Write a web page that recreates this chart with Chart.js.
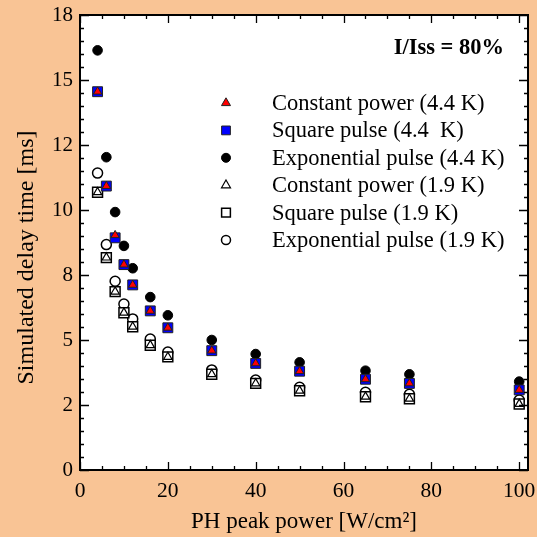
<!DOCTYPE html>
<html>
<head>
<meta charset="utf-8">
<script src="https://cdn.jsdelivr.net/npm/chart.js@4/dist/chart.umd.min.js"></script>
<style>
  html, body { margin: 0; padding: 0; background: rgb(249,196,149); }
  #wrap { width: 537px; height: 537px; }
</style>
</head>
<body>
<div id="wrap"><canvas id="c" width="537" height="537"></canvas></div>
<script>
// ---- Data ----
const xValues = [4, 6, 8, 10, 12, 16, 20, 30, 40, 50, 65, 75, 100];
const constPowerHot = [14.55, 10.92, 9.03, 7.90, 7.12, 6.12, 5.47, 4.59, 4.10, 3.80, 3.49, 3.33, 3.08];
const squarePulseHot = [14.55, 10.92, 8.93, 7.90, 7.12, 6.12, 5.47, 4.59, 4.10, 3.80, 3.49, 3.33, 3.08];
const expPulseHot = [16.14, 12.03, 9.92, 8.62, 7.76, 6.65, 5.95, 5.00, 4.46, 4.14, 3.82, 3.68, 3.40];
const constPowerCold = [10.68, 8.17, 6.86, 6.05, 5.51, 4.80, 4.35, 3.68, 3.33, 3.05, 2.82, 2.74, 2.54];
const squarePulseCold = [10.68, 8.17, 6.86, 6.05, 5.51, 4.80, 4.35, 3.68, 3.33, 3.05, 2.82, 2.74, 2.54];
const expPulseCold = [11.42, 8.67, 7.26, 6.38, 5.81, 5.04, 4.54, 3.85, 3.46, 3.18, 2.99, 2.91, 2.69];

const seriesLabels = [
  'Constant power (4.4 K)',
  'Square pulse (4.4  K)',
  'Exponential pulse (4.4 K)',
  'Constant power (1.9 K)',
  'Square pulse (1.9 K)',
  'Exponential pulse (1.9 K)'
];
const xTickValues = [0, 20, 40, 60, 80, 100];
const yTickValues = [0, 2.5, 5, 7.5, 10, 12.5, 15, 17.5];
const yTickLabels = ['0', '2', '5', '8', '10', '12', '15', '18'];
const annotationText = 'I/Iss = 80%';
const xTitle = 'PH peak power [W/cm²]';
const yTitle = 'Simulated delay time [ms]';

const SERIF = "'Liberation Serif', 'Times New Roman', serif";

function pts(ys) { return xValues.map((x, i) => ({ x: x, y: ys[i] })); }

const datasets = [
  { label: seriesLabels[0], data: pts(constPowerHot), pointStyle: 'triangle', pointRadius: 4.8,
    backgroundColor: '#ff0000', borderColor: '#222', borderWidth: 1, order: 0, legendRadius: 5.2 },
  { label: seriesLabels[1], data: pts(squarePulseHot), pointStyle: 'rect', pointRadius: 7,
    backgroundColor: '#0000ff', borderColor: '#222', borderWidth: 1, order: 1, legendRadius: 6.2 },
  { label: seriesLabels[2], data: pts(expPulseHot), pointStyle: 'circle', pointRadius: 4.8,
    backgroundColor: '#000', borderColor: '#000', borderWidth: 1, order: 2, legendRadius: 4.5 },
  { label: seriesLabels[3], data: pts(constPowerCold), pointStyle: 'triangle', pointRadius: 4.8,
    backgroundColor: '#fff', borderColor: '#000', borderWidth: 1.2, order: 3, legendRadius: 5.2 },
  { label: seriesLabels[4], data: pts(squarePulseCold), pointStyle: 'rect', pointRadius: 7,
    backgroundColor: '#fff', borderColor: '#000', borderWidth: 1.5, order: 4, legendRadius: 6.2 },
  { label: seriesLabels[5], data: pts(expPulseCold), pointStyle: 'circle', pointRadius: 5,
    backgroundColor: '#fff', borderColor: '#000', borderWidth: 1.5, order: 5, legendRadius: 4.5 }
];
datasets.forEach(d => { d.showLine = false; d.pointHoverRadius = d.pointRadius; });

const framePlugin = {
  id: 'frame',
  beforeDraw(chart) {
    const { ctx, chartArea: a } = chart;
    ctx.save();
    ctx.fillStyle = '#fff';
    ctx.fillRect(a.left, a.top, a.right - a.left, a.bottom - a.top);
    ctx.restore();
  },
  afterDraw(chart) {
    const { ctx, chartArea: a } = chart;
    const xs = chart.scales.x, ys = chart.scales.y;
    ctx.save();
    ctx.strokeStyle = '#000';
    ctx.lineWidth = 2;
    ctx.strokeRect(a.left, a.top, a.right - a.left, a.bottom - a.top);
    ctx.lineWidth = 1.3;
    ctx.beginPath();
    for (let v = 0; v <= 100; v += 5) {
      const px = Math.round(xs.getPixelForValue(v)) + 0.5;
      const len = (v % 20 === 0) ? 8 : 4;
      ctx.moveTo(px, a.bottom); ctx.lineTo(px, a.bottom - len);
      ctx.moveTo(px, a.top); ctx.lineTo(px, a.top + len);
    }
    for (let i = 0; i <= 35; i++) {
      const v = i * 0.5;
      const py = Math.round(ys.getPixelForValue(v)) + 0.5;
      const len = (i % 5 === 0) ? 9 : 4;
      ctx.moveTo(a.left, py); ctx.lineTo(a.left + len, py);
      ctx.moveTo(a.right, py); ctx.lineTo(a.right - len, py);
    }
    ctx.stroke();

    ctx.fillStyle = '#000';
    ctx.font = 'bold 22.5px ' + SERIF;
    ctx.textAlign = 'right';
    ctx.textBaseline = 'middle';
    ctx.fillText(annotationText, 504, 48);

    const mx = 226, tx = 272, y0 = 103, dy = 27.4;
    chart.data.datasets.forEach((d, i) => {
      const y = y0 + i * dy;
      ctx.fillStyle = d.backgroundColor;
      ctx.strokeStyle = d.borderColor;
      ctx.lineWidth = d.borderWidth;
      Chart.helpers.drawPoint(ctx, { pointStyle: d.pointStyle, radius: d.legendRadius, borderWidth: d.borderWidth, rotation: 0 }, mx, y);
      ctx.fillStyle = '#000';
      ctx.font = '22.5px ' + SERIF;
      ctx.textAlign = 'left';
      ctx.textBaseline = 'middle';
      ctx.fillText(d.label, tx, y + 1);
    });
    ctx.restore();
  }
};

new Chart(document.getElementById('c'), {
  type: 'scatter',
  data: { datasets },
  options: {
    responsive: false,
    animation: false,
    devicePixelRatio: 1,
    layout: { padding: { left: 0, right: 9, top: 15, bottom: 0 } },
    plugins: { legend: { display: false }, tooltip: { enabled: false } },
    scales: {
      x: {
        type: 'linear', min: 0, max: 102,
        grid: { display: false, drawTicks: false },
        border: { display: false },
        afterBuildTicks: s => { s.ticks = xTickValues.map(v => ({ value: v })); },
        afterFit: s => { s.height = 67; s.paddingLeft = 0; s.paddingRight = 0; },
        ticks: { color: '#000', font: { family: SERIF, size: 21.5 }, padding: 8, maxRotation: 0,
                 callback: v => String(v) },
        title: { display: true, text: xTitle, color: '#000',
                 font: { family: SERIF, size: 23 }, padding: { top: 0, bottom: 1 } }
      },
      y: {
        type: 'linear', min: 0, max: 17.5,
        grid: { display: false, drawTicks: false },
        border: { display: false },
        afterBuildTicks: s => { s.ticks = yTickValues.map(v => ({ value: v })); },
        afterFit: s => { s.width = 80; s.paddingTop = 0; s.paddingBottom = 0; },
        ticks: { color: '#000', font: { family: SERIF, size: 21 }, padding: 7,
                 callback: (v, i) => yTickLabels[i] },
        title: { display: true, text: yTitle + '\u00A0\u00A0\u00A0\u00A0\u00A0', color: '#000',
                 font: { family: SERIF, size: 24 }, padding: { top: 12, bottom: 0 } }
      }
    }
  },
  plugins: [framePlugin]
});
</script>
</body>
</html>
